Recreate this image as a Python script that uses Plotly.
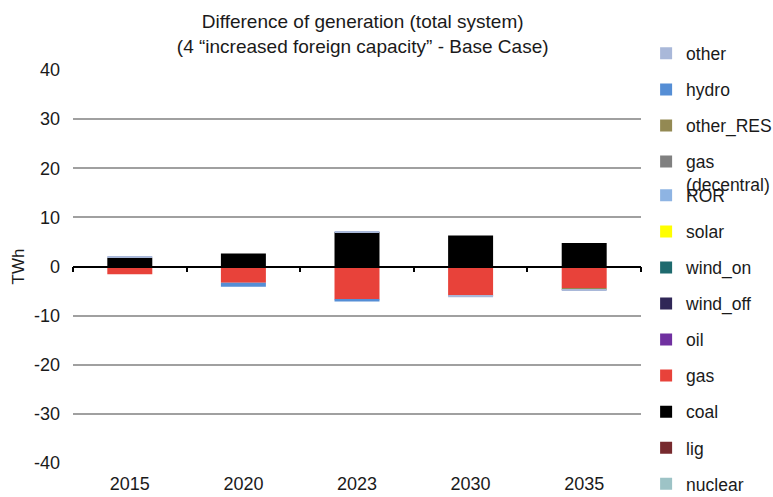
import plotly.graph_objects as go

years = ["2015", "2020", "2023", "2030", "2035"]

# series in stacking order (first = nearest zero)
series_names = ["nuclear", "lig", "coal", "gas", "oil", "wind_off", "wind_on",
                "solar", "ROR", "gas<br>(decentral)", "other_RES", "hydro", "other"]
nuclear = [0, 0, 0, 0, 0]
lig = [0, 0, 0, 0, 0]
coal = [1.8, 2.65, 7.0, 6.3, 4.8]
gas = [-1.6, -3.3, -6.7, -6.0, -4.4]
oil = [0, 0, 0, 0, 0]
wind_off = [0, 0, 0, 0, 0]
wind_on = [0, 0, 0, 0, 0]
solar = [0, 0, 0, 0, 0]
ror = [0, 0, 0, 0, 0]
gas_decentral = [0, 0, 0, 0, 0]
other_res = [0, 0, 0, 0, -0.2]
hydro = [0, -0.8, -0.4, 0, 0]
other = [0.15, 0, 0.1, -0.25, -0.2]

series_values = [nuclear, lig, coal, gas, oil, wind_off, wind_on, solar, ror,
                 gas_decentral, other_res, hydro, other]
colors = ["#9DC3C6", "#772A2E", "#000000", "#E8423A", "#7030A0", "#302757",
          "#1E6A6E", "#FFFF00", "#8EB4E3", "#808080", "#938953", "#558ED5", "#A9B8D9"]
# upper legend block holds the last four series (other .. gas (decentral))
upper_legend = {"other", "hydro", "other_RES", "gas<br>(decentral)"}

y_ticks = [-40, -30, -20, -10, 0, 10, 20, 30, 40]
y_tick_labels = ["-40", "-30", "-20", "-10", "0", "10", "20", "30", "40"]

FONT = "Liberation Sans, Arial, sans-serif"

fig = go.Figure()
for i, (name, vals, col) in enumerate(zip(series_names, series_values, colors)):
    fig.add_trace(go.Bar(
        x=years, y=vals, name=name, marker=dict(color=col, line=dict(width=0)),
        legendgroup=name, legendrank=1000 - i,
        legend="legend" if name in upper_legend else "legend2",
    ))

# invisible helper trace for the zero-line axis with boundary ticks
fig.add_trace(go.Scatter(x=years, y=[0] * len(years), xaxis="x2", mode="none",
                         showlegend=False, hoverinfo="skip"))

legend_common = dict(
    x=1.009, xanchor="left", yanchor="top",
    traceorder="grouped", tracegroupgap=10.3, valign="top",
    font=dict(family=FONT, size=17.5, color="#1a1a1a"),
    bgcolor="rgba(0,0,0,0)", maxheight=600,
)

fig.update_layout(
    width=773, height=497,
    margin=dict(l=73, r=132, t=70, b=34, autoexpand=False),
    paper_bgcolor="white", plot_bgcolor="white",
    barmode="relative", bargap=0.604,
    font=dict(family=FONT, size=18, color="#1a1a1a"),
    title=dict(
        text="Difference of generation (total system)<br>(4 \u201cincreased foreign capacity\u201d - Base Case)",
        x=0.51, xref="paper", xanchor="center",
        yref="container", y=0.9437, yanchor="middle",
        font=dict(family=FONT, size=19, color="#1a1a1a"),
    ),
    xaxis=dict(
        type="category", categoryarray=years, showgrid=False, showline=False,
        ticks="", tickfont=dict(size=18), zeroline=False, ticklabelstandoff=8,
    ),
    xaxis2=dict(
        type="category", categoryarray=years, matches="x", overlaying="x",
        anchor="free", position=0.5, showline=True, linecolor="black", linewidth=1.5,
        ticks="outside", tickson="boundaries", ticklen=5, tickwidth=1.5,
        tickcolor="black", showticklabels=False, showgrid=False, zeroline=False,
    ),
    yaxis=dict(
        range=[-40, 40], tickvals=y_ticks, ticktext=y_tick_labels,
        showgrid=True, gridcolor="#A0A0A0",
        gridwidth=1.5, zeroline=False, ticks="", showline=False,
        tickfont=dict(size=18), ticklabelstandoff=12,
        title=dict(text="TWh", font=dict(size=17), standoff=5),
    ),
    legend=dict(legend_common, y=1.0878),
    legend2=dict(legend_common, y=0.7265),
)

fig.write_html("out.html", post_script="document.body.style.margin='0';",
               config={"displayModeBar": False})
